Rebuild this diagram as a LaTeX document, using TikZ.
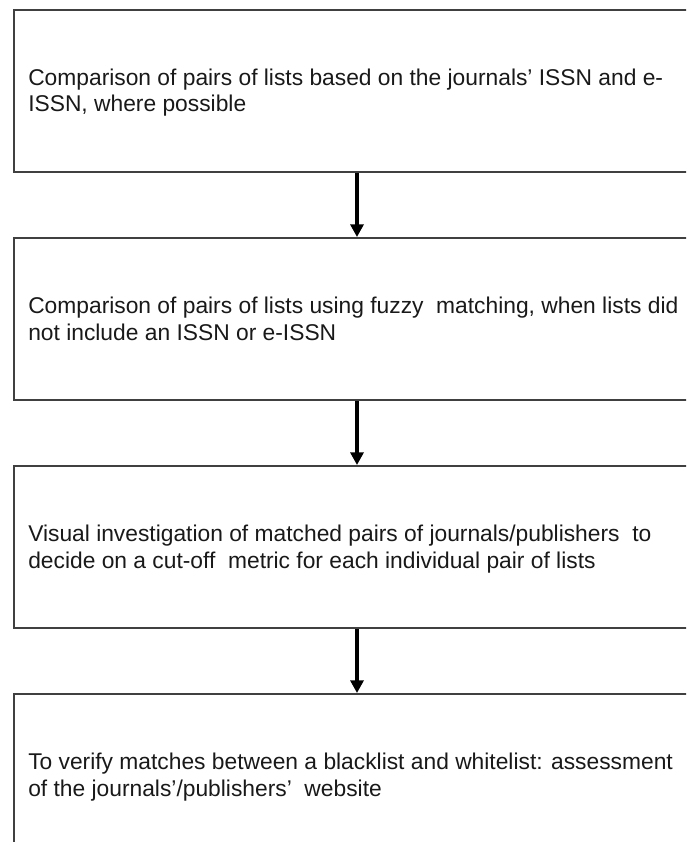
\documentclass[tikz,border=0pt]{standalone}
\usepackage{fontspec}
\setmainfont{Liberation Sans}
\usepackage{tikz}
\usetikzlibrary{positioning,arrows.meta,calc}
\tikzset{
  stagebox/.style={
    draw=black!75,
    rectangle,
    line width=1.5pt,
    minimum width=514.5pt,
    minimum height=121.5pt,
    inner sep=0pt
  },
  stagetext/.style={
    anchor=base west,
    align=left,
    inner sep=0pt,
    text=black!90,
    font=\fontsize{17.1pt}{20.25pt}\selectfont
  },
  stagearrow/.style={
    -{Triangle[width=9.75pt,length=9.5pt]},
    line width=3.2pt,
    black
  }
}

\begin{document}
\begin{tikzpicture}[
    x=0.75pt, y=-0.75pt,
    node distance=48pt
    ]
    \clip (0,0) rectangle (686,842);

    \node[stagebox] (match) at (357,91) {};
    \node[stagebox, below=of match] (fuzzy) {};
    \node[stagebox, below=of fuzzy] (visual) {};
    \node[stagebox, below=of visual] (verify) {};

    % base anchor sits on the last line
    \node[stagetext] (matchtext) at ($(match.north west)+(15,103)$)
      {Comparison of pairs of lists based on the journals’ ISSN and e-\\ISSN, where possible};
    \node[stagetext] (fuzzytext) at ($(fuzzy.north west)+(15,103)$)
      {Comparison of pairs of lists using fuzzy\ \ matching, when lists did\\not include an ISSN or e-ISSN};
    \node[stagetext] (visualtext) at ($(visual.north west)+(15,103)$)
      {Visual investigation of matched pairs of journals/publishers\ \ to\\decide on a cut-off\ \ metric for each individual pair of lists};
    \node[stagetext] (verifytext) at ($(verify.north west)+(15,103)$)
      {To verify matches between a blacklist and whitelist: assessment\\of the journals’/publishers’\ \ website};

    \draw[stagearrow] (match) -- (fuzzy);
    \draw[stagearrow] (fuzzy) -- (visual);
    \draw[stagearrow] (visual) -- (verify);

\end{tikzpicture}
\end{document}
